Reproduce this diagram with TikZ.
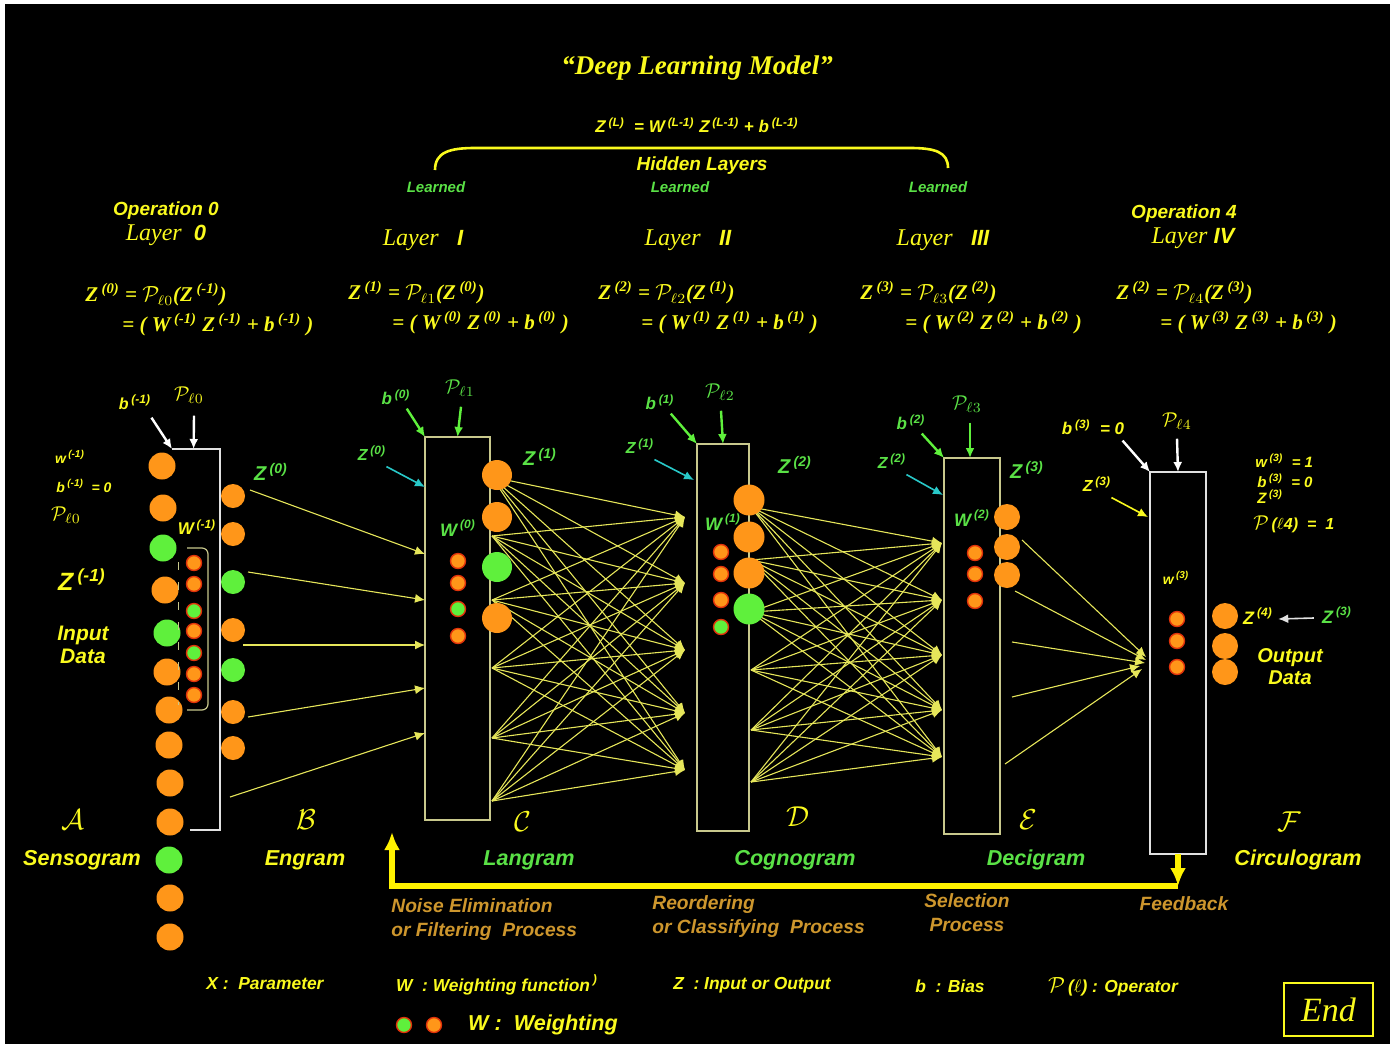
\documentclass[tikz,border=0pt]{standalone}
\usepackage{fontspec}
\setmainfont{Liberation Sans}
\newfontfamily\eqfont{Liberation Serif}
\usetikzlibrary{arrows.meta, positioning, calc}

\definecolor{txtyellow}{RGB}{250,250,30}
\definecolor{txtgreen}{RGB}{90,225,70}
\definecolor{nodeorange}{RGB}{255,150,25}
\definecolor{nodegreen}{RGB}{95,240,60}
\definecolor{wirecolor}{RGB}{230,230,90}
\definecolor{boxcolor}{RGB}{200,200,140}
\definecolor{zcyan}{RGB}{40,200,200}
\definecolor{proccolor}{RGB}{205,150,45}
\definecolor{ringred}{RGB}{225,50,10}
\definecolor{paleline}{RGB}{225,225,225}

\newcommand{\fsz}[1]{\fontsize{#1}{#1}\selectfont}
\newcommand{\supx}[1]{\,\textsuperscript{#1}}
\newcommand{\Pop}[1]{$\mathcal{P}_{\ell #1}$}

\tikzstyle{lbl} = [inner sep=0pt, text=txtyellow, font=\bfseries\itshape]
\tikzstyle{glbl} = [lbl, text=txtgreen]
\tikzstyle{eq} = [inner sep=0pt, anchor=west, text=txtyellow, font=\fsz{10.5}\eqfont\bfseries\itshape]
\tikzstyle{layerbox} = [draw=boxcolor, line width=0.7pt, rectangle, inner sep=0pt, outer sep=0pt]
\tikzstyle{neuron} = [circle, inner sep=0pt, outer sep=0pt]
\tikzstyle{weight} = [circle, inner sep=0pt, outer sep=0pt, draw=ringred, line width=0.7pt, minimum size=7.5pt]
\tikzstyle{wire} = [->, draw=wirecolor, line width=0.55pt]
\tikzstyle{garrow} = [->, draw=nodegreen, line width=1.2pt]
\tikzstyle{carrow} = [->, draw=zcyan, line width=0.8pt]
\tikzstyle{warrow} = [->, draw=white, line width=1.2pt]
\tikzstyle{feedback} = [-{Latex[length=9pt,width=8pt]}, draw=yellow, line width=2.6pt]
\tikzstyle{proc} = [inner sep=0pt, text=proccolor, font=\fontsize{9.6}{11}\selectfont\bfseries\itshape, align=left]
\tikzstyle{legend} = [lbl, font=\fsz{8.7}\bfseries\itshape]

\begin{document}
\begin{tikzpicture}[x=0.5pt, y=-0.5pt, >={Latex[length=5pt,width=4.5pt]}]
	\useasboundingbox (0,0) rectangle (1390,1044);
	\fill[white] (0,0) rectangle (1390,1044);
	\fill[black] (5,4) rectangle (1390,1044);

	% titles
	\node[inner sep=0pt, text=txtyellow, font=\fsz{13.5}\eqfont\bfseries\itshape] (title) at (697,68) {“Deep Learning Model”};
	\node[lbl, font=\fsz{8.5}\bfseries\itshape] (zL) at (697,125) {Z\supx{(L)}~~= W\supx{(L-1)} Z\supx{(L-1)} + b\supx{(L-1)}};
	\draw[txtyellow, line width=1.3pt] (435,170) .. controls (435,152) and (450,148) .. (475,148) -- (910,148) .. controls (935,148) and (948,152) .. (948,168);
	\node[lbl, font=\fsz{9.5}\bfseries\itshape] (hidden) at (702,166) {Hidden Layers};
	\node[glbl, font=\fsz{7.5}\bfseries\itshape] (learn1) at (436,187) {Learned};
	\node[glbl, font=\fsz{7.5}\bfseries\itshape] (learn2) at (680,187) {Learned};
	\node[glbl, font=\fsz{7.5}\bfseries\itshape] (learn3) at (938,187) {Learned};

	\node[lbl, font=\fsz{9.5}\bfseries\itshape] (op0) at (166,211) {Operation 0};
	\node[lbl, font=\fsz{11}\bfseries\itshape] (lay0) at (166,235) {{\fsz{12}\eqfont\itshape\mdseries Layer}~~0};
	\node[lbl, font=\fsz{11}\bfseries\itshape] (lay1) at (423,240) {{\fsz{12}\eqfont\itshape\mdseries Layer}~~~I};
	\node[lbl, font=\fsz{11}\bfseries\itshape] (lay2) at (688,240) {{\fsz{12}\eqfont\itshape\mdseries Layer}~~~II};
	\node[lbl, font=\fsz{11}\bfseries\itshape] (lay3) at (943,240) {{\fsz{12}\eqfont\itshape\mdseries Layer}~~~III};
	\node[lbl, font=\fsz{9.5}\bfseries\itshape] (op4) at (1184,214) {Operation 4};
	\node[lbl, font=\fsz{11}\bfseries\itshape] (lay4) at (1193,238) {{\fsz{12}\eqfont\itshape\mdseries Layer}~IV};

	% equations
	\node[eq] (eq0a) at (85,295) {Z\supx{(0)} = \Pop{0}(Z\supx{(-1)})};
	\node[eq] (eq0b) at (122,325) {= ( W\supx{(-1)} Z\supx{(-1)} + b\supx{(-1)} )};
	\node[eq] (eq1a) at (348,293) {Z\supx{(1)} = \Pop{1}(Z\supx{(0)})};
	\node[eq] (eq1b) at (392,323) {= ( W\supx{(0)} Z\supx{(0)} + b\supx{(0)} )};
	\node[eq] (eq2a) at (598,293) {Z\supx{(2)} = \Pop{2}(Z\supx{(1)})};
	\node[eq] (eq2b) at (641,323) {= ( W\supx{(1)} Z\supx{(1)} + b\supx{(1)} )};
	\node[eq] (eq3a) at (860,293) {Z\supx{(3)} = \Pop{3}(Z\supx{(2)})};
	\node[eq] (eq3b) at (905,323) {= ( W\supx{(2)} Z\supx{(2)} + b\supx{(2)} )};
	\node[eq] (eq4a) at (1116,293) {Z\supx{(2)} = \Pop{4}(Z\supx{(3)})};
	\node[eq] (eq4b) at (1160,323) {= ( W\supx{(3)} Z\supx{(3)} + b\supx{(3)} )};

	% layer boxes
	\coordinate (L0a) at (172,449);
	\coordinate (L0b) at (220,449);
	\coordinate (L0c) at (220,830);
	\coordinate (L0d) at (190,830);
	\draw[paleline, line width=0.9pt] (L0a) -- (L0b) -- (L0c) -- (L0d);
	\node[layerbox, minimum width=32.5pt, minimum height=191.5pt] (L1) at (457.5,628.5) {};
	\node[layerbox, minimum width=26pt, minimum height=193.5pt] (L2) at (723,637.5) {};
	\node[layerbox, minimum width=28pt, minimum height=188pt] (L3) at (972,646) {};
	\node[layerbox, draw=paleline, minimum width=28pt, minimum height=191pt] (L4) at (1178,663) {};

	% wires
	\foreach \x/\y [count=\i] in {250/490,248/572,243/645,248/717,230/797} \coordinate (o0\i) at (\x,\y);
	\foreach \y [count=\j] in {554,600,645,688,733} \coordinate (i1\j) at (425,\y);
	\foreach \i in {1,...,5} \draw[wire] (o0\i) -- (i1\i);
	\foreach \y [count=\i] in {477,536,600,668,738,801} \coordinate (o1\i) at (492,\y);
	\foreach \y [count=\j] in {517,583,650,713,770} \coordinate (i2\j) at (685,\y);
	\foreach \i in {1,...,6} \foreach \j in {1,...,5} \draw[wire] (o1\i) -- (i2\j);
	\foreach \y [count=\i] in {507,560,612,670,730,782} \coordinate (o2\i) at (751,\y);
	\foreach \y [count=\j] in {543,600,655,710,757} \coordinate (i3\j) at (942,\y);
	\foreach \i in {1,...,6} \foreach \j in {1,...,5} \draw[wire] (o2\i) -- (i3\j);
	\foreach \x/\y [count=\i] in {1022/540,1015/591,1012/642,1012/697,1005/764} \coordinate (o3\i) at (\x,\y);
	\foreach \x/\y [count=\j] in {1146/657,1146/660,1145/663,1140/666,1142/669} \coordinate (i4\j) at (\x,\y);
	\foreach \i in {1,...,5} \draw[wire] (o3\i) -- (i4\i);

	% neurons
	\foreach \x/\y/\c [count=\i] in {162/466/nodeorange,163/508/nodeorange,163/548/nodegreen,165/590/nodeorange,167/633/nodegreen,167/672/nodeorange,169/710/nodeorange,169/745/nodeorange,170/783/nodeorange,170/822/nodeorange,169/860/nodegreen,170/898/nodeorange,170/937/nodeorange}
		\node[neuron, fill=\c, minimum size=13.5pt] (in\i) at (\x,\y) {};
	\draw[boxcolor, line width=0.6pt, rounded corners=3pt] (187,548) -- (208,548) -- (208,710) -- (187,710);
	\draw[boxcolor, line width=0.5pt, dash pattern=on 4pt off 6pt] (178,562) -- (178,705);
	\foreach \y/\c [count=\i] in {563/nodeorange,584/nodeorange,611/nodegreen,631/nodeorange,653/nodegreen,674/nodeorange,695/nodeorange}
		\node[weight, fill=\c] (w0\i) at (194,\y) {};
	\foreach \y/\c [count=\i] in {496/nodeorange,534/nodeorange,582/nodegreen,630/nodeorange,670/nodegreen,712/nodeorange,748/nodeorange}
		\node[neuron, fill=\c, minimum size=12pt] (z0\i) at (233,\y) {};
	\foreach \y/\c [count=\i] in {561/nodeorange,583/nodeorange,609/nodegreen,636/nodeorange}
		\node[weight, fill=\c] (w1\i) at (458,\y) {};
	\foreach \y/\c [count=\i] in {475/nodeorange,517/nodeorange,567/nodegreen,618/nodeorange}
		\node[neuron, fill=\c, minimum size=15pt] (z1\i) at (497,\y) {};
	\foreach \y/\c [count=\i] in {552/nodeorange,574/nodeorange,600/nodeorange,627/nodegreen}
		\node[weight, fill=\c] (w2\i) at (721,\y) {};
	\foreach \y/\c [count=\i] in {500/nodeorange,537/nodeorange,573/nodeorange,609/nodegreen}
		\node[neuron, fill=\c, minimum size=15.5pt] (z2\i) at (749,\y) {};
	\foreach \y [count=\i] in {553,574,601}
		\node[weight, fill=nodeorange] (w3\i) at (975,\y) {};
	\foreach \y [count=\i] in {517,547,575}
		\node[neuron, fill=nodeorange, minimum size=13pt] (z3\i) at (1007,\y) {};
	\foreach \y [count=\i] in {619,641,667}
		\node[weight, fill=nodeorange] (w4\i) at (1177,\y) {};
	\foreach \y [count=\i] in {616,646,672}
		\node[neuron, fill=nodeorange, minimum size=13pt] (z4\i) at (1225,\y) {};

	% layer 0 labels
	\node[lbl, font=\fsz{7}\bfseries\itshape] (wm1) at (70,457) {w\supx{(-1)}};
	\node[lbl, font=\fsz{7}\bfseries\itshape] (bm1) at (84,486) {b\supx{(-1)}~~= 0};
	\node[lbl, font=\fsz{10}] (pm1) at (66,515) {\Pop{0}};
	\node[lbl, font=\fsz{12.5}\bfseries\itshape] (zm1) at (82,580) {Z\supx{(-1)}};
	\node[lbl, font=\fsz{10.5}\bfseries\itshape, align=center] (indata) at (83,645) {Input\\[1pt]Data};
	\node[lbl, font=\fsz{8}\bfseries\itshape] (btop0) at (135,402) {b\supx{(-1)}};
	\node[lbl, font=\fsz{10}] (ptop0) at (189,395) {\Pop{0}};
	\draw[warrow] (btop0.south east) ++(0,8) -- (L0a);
	\draw[warrow] (ptop0.south) ++(5,12) -- ($(L0a)!0.45!(L0b)$);
	\node[lbl, font=\fsz{8.5}\bfseries\itshape] (wlab0) at (197,527) {W\supx{(-1)}};
	\node[glbl, font=\fsz{10}\bfseries\itshape] (zlab0) at (271,472) {Z\supx{(0)}};

	% layer I labels
	\node[glbl, font=\fsz{8.5}\bfseries\itshape] (btop1) at (396,397) {b\supx{(0)}};
	\node[glbl, font=\fsz{10}\mdseries] (ptop1) at (460,388) {\Pop{1}};
	\node[glbl, font=\fsz{8}\bfseries\itshape] (zin1) at (372,453) {Z\supx{(0)}};
	\draw[garrow] (btop1.south east) ++(-4,4) -- (L1.north west);
	\draw[garrow] (ptop1.south) ++(1,10) -- (L1.north);
	\draw[carrow] (zin1.south east) ++(0,6) -- ($(L1.north west)+(0,50)$);
	\node[glbl, font=\fsz{9}\bfseries\itshape] (wlab1) at (458,528) {W\supx{(0)}};
	\node[glbl, font=\fsz{10}\bfseries\itshape] (zlab1) at (540,457) {Z\supx{(1)}};

	% layer II labels
	\node[glbl, font=\fsz{8.5}\bfseries\itshape] (btop2) at (660,402) {b\supx{(1)}};
	\node[glbl, font=\fsz{10}\mdseries] (ptop2) at (720,392) {\Pop{2}};
	\node[glbl, font=\fsz{8}\bfseries\itshape] (zin2) at (640,446) {Z\supx{(1)}};
	\draw[garrow] (btop2.south east) ++(-4,4) -- (L2.north west);
	\draw[garrow] (ptop2.south) ++(1,10) -- (L2.north);
	\draw[carrow] (zin2.south east) ++(0,6) -- ($(L2.north west)+(-3,36)$);
	\node[glbl, font=\fsz{9}\bfseries\itshape] (wlab2) at (723,522) {W\supx{(1)}};
	\node[glbl, font=\fsz{10}\bfseries\itshape] (zlab2) at (795,465) {Z\supx{(2)}};

	% layer III labels
	\node[glbl, font=\fsz{8.5}\bfseries\itshape] (btop3) at (911,422) {b\supx{(2)}};
	\node[glbl, font=\fsz{10}\mdseries] (ptop3) at (967,404) {\Pop{3}};
	\node[glbl, font=\fsz{8}\bfseries\itshape] (zin3) at (892,461) {Z\supx{(2)}};
	\draw[garrow] (btop3.south east) ++(-4,4) -- (L3.north west);
	\draw[garrow] (ptop3.south) ++(3,10) -- ($(L3.north)+(-2,0)$);
	\draw[carrow] (zin3.south east) ++(0,6) -- ($(L3.north west)+(-1,37)$);
	\node[glbl, font=\fsz{9}\bfseries\itshape] (wlab3) at (972,518) {W\supx{(2)}};
	\node[glbl, font=\fsz{10}\bfseries\itshape] (zlab3) at (1027,470) {Z\supx{(3)}};

	% layer IV labels
	\node[lbl, font=\fsz{8.5}\bfseries\itshape] (btop4) at (1093,427) {b\supx{(3)}~~= 0};
	\node[lbl, font=\fsz{10}\mdseries] (ptop4) at (1177,421) {\Pop{4}};
	\node[lbl, font=\fsz{8}\bfseries\itshape] (zin4) at (1097,484) {Z\supx{(3)}};
	\draw[warrow] (btop4.south east) ++(-2,6) -- (L4.north west);
	\draw[warrow] (ptop4.south) ++(0,9) -- (L4.north);
	\draw[->, draw=txtyellow, line width=0.8pt] (zin4.south east) ++(0,6) -- ($(L4.north west)+(-2,45)$);
	\node[lbl, font=\fsz{7}\bfseries\itshape] (wlab4) at (1176,578) {w\supx{(3)}};
	\node[lbl, font=\fsz{9}\bfseries\itshape] (zout4) at (1258,616) {Z\supx{(4)}};
	\node[glbl, font=\fsz{9}\bfseries\itshape] (zback) at (1337,615) {Z\supx{(3)}};
	\draw[->, draw=paleline, line width=0.8pt] (zback.west) ++(-8,3) -- ($(zout4.east)+(5,3)$);
	\node[lbl, font=\fsz{10}\bfseries\itshape, align=center] (outdata) at (1290,667) {Output\\[1pt]Data};
	\node[lbl, font=\fsz{7.5}\bfseries\itshape, anchor=west] (wr) at (1255,461) {w\supx{(3)}~~= 1};
	\node[lbl, font=\fsz{7.5}\bfseries\itshape, anchor=west] (br) at (1257,481) {b\supx{(3)}~~= 0};
	\node[lbl, font=\fsz{7.5}\bfseries\itshape, anchor=west] (zr) at (1257,497) {Z\supx{(3)}};
	\node[lbl, font=\fsz{8}\bfseries\itshape, anchor=west] (pr) at (1253,524) {{\fsz{10}$\mathcal{P}$}\,({\mdseries$\ell$}4)~~=~~1};

	% bottom names
	\node[lbl, font=\fsz{14}\mdseries\upshape] (letA) at (73,820) {$\mathcal{A}$};
	\node[lbl, font=\fsz{14}\mdseries\upshape] (letB) at (306,820) {$\mathcal{B}$};
	\node[lbl, font=\fsz{14}\mdseries\upshape] (letC) at (523,822) {$\mathcal{C}$};
	\node[lbl, font=\fsz{14}\mdseries\upshape] (letD) at (798,817) {$\mathcal{D}$};
	\node[lbl, font=\fsz{14}\mdseries\upshape] (letE) at (1028,820) {$\mathcal{E}$};
	\node[lbl, font=\fsz{14}\mdseries\upshape] (letF) at (1289,822) {$\mathcal{F}$};
	\node[lbl, font=\fsz{10.8}\bfseries\itshape] (senso) at (82,860) {Sensogram};
	\node[lbl, font=\fsz{10.8}\bfseries\itshape] (engram) at (305,860) {Engram};
	\node[glbl, font=\fsz{10.8}\bfseries\itshape] (langram) at (529,860) {Langram};
	\node[glbl, font=\fsz{10.8}\bfseries\itshape] (cogno) at (795,860) {Cognogram};
	\node[glbl, font=\fsz{10.8}\bfseries\itshape] (deci) at (1036,860) {Decigram};
	\node[lbl, font=\fsz{10.8}\bfseries\itshape] (circulo) at (1298,860) {Circulogram};

	% feedback
	\coordinate (fbc) at (1178,886);
	\coordinate (fbend) at (392,832);
	\draw[feedback] (L4.south) -- (fbc);
	\draw[feedback] (fbc) -| (fbend);

	\node[proc, anchor=north west] (noise) at (391,898) {Noise Elimination\\[1pt]or Filtering~~Process};
	\node[proc, anchor=north west] (reorder) at (652,895) {Reordering\\[1pt]or Classifying~~Process};
	\node[proc, align=center] (select) at (967,913) {Selection\\[1pt]Process};
	\node[proc] (fback) at (1184,904) {Feedback};

	% legend
	\node[legend] (legx) at (265,984) {X~:~~Parameter};
	\node[legend] (legw) at (497,985) {W~~: Weighting function\supx{)}};
	\node[legend] (legz) at (752,985) {Z~~: Input or Output};
	\node[legend] (legb) at (950,986) {b~~: Bias};
	\node[legend] (legp) at (1113,987) {{\fsz{10.5}$\mathcal{P}$}\,({\mdseries$\ell$})~: Operator};
	\node[weight, fill=nodegreen] (legg) at (404,1025) {};
	\node[weight, fill=nodeorange] (lego) at (434,1025) {};
	\node[lbl, font=\fsz{10.8}\bfseries\itshape] (legww) at (543,1025) {W~:~~Weighting};
	\node[draw=txtyellow, line width=0.7pt, minimum width=44.5pt, minimum height=26.5pt, inner sep=0pt, text=txtyellow, font=\fsz{17}\eqfont\itshape] (endbox) at (1328.5,1009.5) {End};
\end{tikzpicture}
\end{document}
